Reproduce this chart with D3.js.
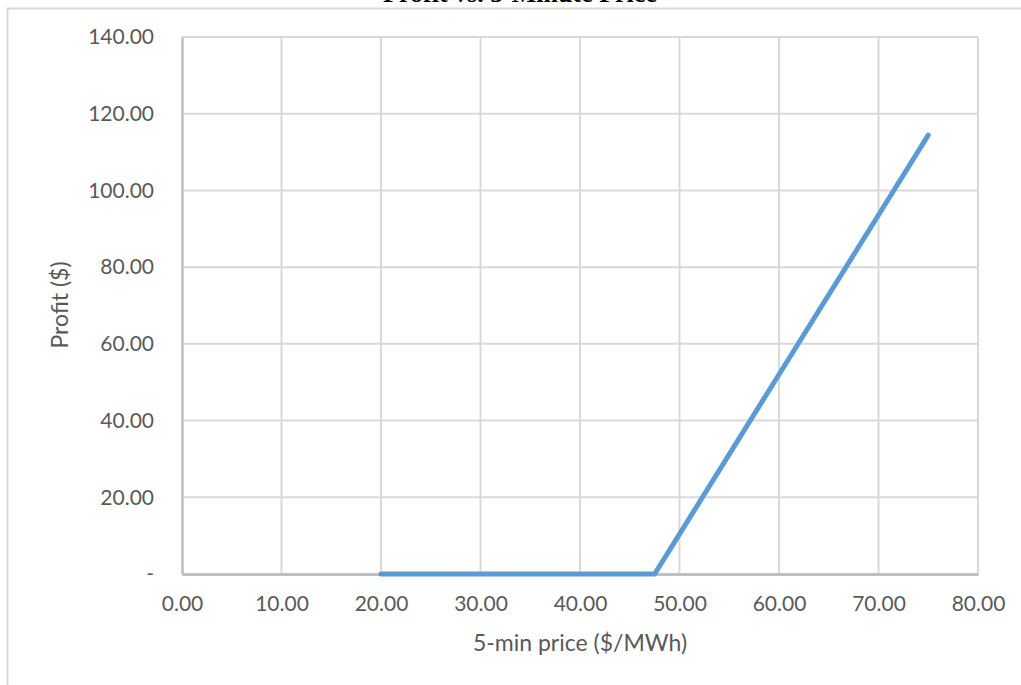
<!DOCTYPE html>
<html>
<head>
<meta charset="utf-8">
<script src="https://cdn.jsdelivr.net/npm/d3@7"></script>
<style>
  html, body { margin: 0; padding: 0; background: #fff; }
  svg { display: block; }
</style>
</head>
<body>
<svg id="chart" width="1021" height="685"></svg>
<script>
// Profit vs. 5-minute price
const prices  = [20, 30, 40, 47.5, 50, 60, 70, 75];
const profits = [0, 0, 0, 0, 10.4, 52.0, 93.6, 114.4];
const xTicks = [0, 10, 20, 30, 40, 50, 60, 70, 80];
const yTicks = [0, 20, 40, 60, 80, 100, 120, 140];

const chartTitle = "Profit vs. 5-Minute Price";
const xTitle = "5-min price ($/MWh)";
const yTitle = "Profit ($)";

const svg = d3.select("#chart");
const W = 1021, H = 685;

const plot = { left: 182, right: 978, top: 37, bottom: 574 };

const x = d3.scaleLinear().domain([0, 80]).range([plot.left, plot.right]);
const y = d3.scaleLinear().domain([0, 140]).range([plot.bottom, plot.top]);

// chart frame
svg.append("rect")
  .attr("x", 7.5).attr("y", 8.5)
  .attr("width", W + 10).attr("height", H + 10)
  .attr("fill", "#fff")
  .attr("stroke", "#d9d9d9")
  .attr("stroke-width", 2);

// title (sits above the frame top)
svg.append("text")
  .attr("x", 520).attr("y", 2)
  .attr("text-anchor", "middle")
  .attr("font-family", "'Liberation Serif', 'Times New Roman', serif")
  .attr("font-weight", "bold")
  .attr("font-size", 26)
  .attr("fill", "#000")
  .text(chartTitle);

const font = "Lato, 'Open Sans', sans-serif";
const tickColor = "#595959";

// gridlines
const grid = svg.append("g");
grid.selectAll("line.h")
  .data(yTicks.filter(d => d !== 0))
  .join("line")
  .attr("x1", plot.left).attr("x2", plot.right)
  .attr("y1", d => y(d)).attr("y2", d => y(d))
  .attr("stroke", "#d9d9d9").attr("stroke-width", 2);
grid.selectAll("line.v")
  .data(xTicks.filter(d => d !== 0))
  .join("line")
  .attr("x1", d => x(d)).attr("x2", d => x(d))
  .attr("y1", plot.top).attr("y2", plot.bottom)
  .attr("stroke", "#d9d9d9").attr("stroke-width", 2);

// axes via d3 axis generators
const fmt = d => d === 0 ? "-" : d3.format(".2f")(d);

const yAxis = svg.append("g")
  .attr("transform", `translate(${plot.left},0)`)
  .call(d3.axisLeft(y).tickValues(yTicks).tickFormat(fmt).tickSize(0).tickPadding(28));
yAxis.select(".domain").attr("stroke", "#bfbfbf").attr("stroke-width", 2.5);
yAxis.selectAll("text")
  .attr("font-family", font).attr("font-size", 21).attr("fill", tickColor);

const xAxis = svg.append("g")
  .attr("transform", `translate(0,${plot.bottom})`)
  .call(d3.axisBottom(x).tickValues(xTicks).tickFormat(d => d3.format(".2f")(d)).tickSize(0).tickPadding(22));
xAxis.select(".domain").attr("stroke", "#bfbfbf").attr("stroke-width", 3);
xAxis.selectAll("text")
  .attr("font-family", font).attr("font-size", 21).attr("fill", tickColor);

// axis titles
svg.append("text")
  .attr("x", 580).attr("y", 651)
  .attr("text-anchor", "middle")
  .attr("font-family", font).attr("font-size", 23).attr("fill", tickColor)
  .text(xTitle);

svg.append("text")
  .attr("transform", `translate(68,305) rotate(-90)`)
  .attr("text-anchor", "middle")
  .attr("font-family", font).attr("font-size", 23).attr("fill", tickColor)
  .text(yTitle);

// profit line
const pts = prices.map((p, i) => [p, profits[i]]);
svg.append("path")
  .datum(pts)
  .attr("fill", "none")
  .attr("stroke", "#5b9bd5")
  .attr("stroke-width", 5)
  .attr("stroke-linecap", "round")
  .attr("stroke-linejoin", "round")
  .attr("d", d3.line().x(d => x(d[0])).y(d => y(d[1])));
</script>
</body>
</html>
